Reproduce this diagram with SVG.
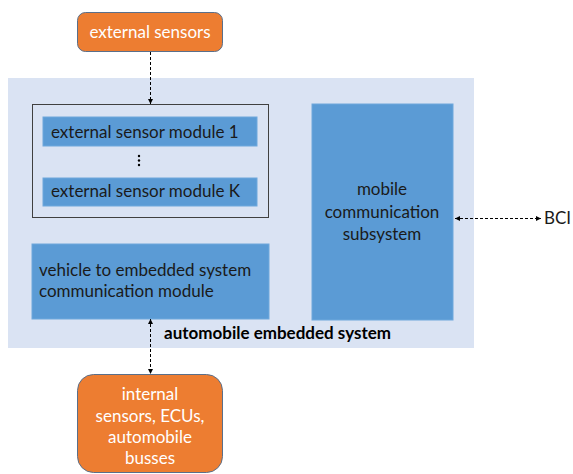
<svg xmlns="http://www.w3.org/2000/svg" width="573" height="474" viewBox="0 0 573 474">
<style>
.t{font-family:Lato,"Liberation Sans",sans-serif;font-size:17px;fill:#1a1a1a}
.w{font-family:Lato,"Liberation Sans",sans-serif;font-size:17px;fill:#ffffff}
.b{font-family:Lato,"Liberation Sans",sans-serif;font-size:17px;font-weight:bold;fill:#000}
.mod{fill:#5B9BD5;stroke:#6FA8DC;stroke-width:1}
.org{fill:#ED7D31;stroke:#5a6f8a;stroke-width:1}
.con{stroke:#000;stroke-width:1;stroke-dasharray:3,2;fill:none}
</style>
<defs>
<marker id="ah" viewBox="0 0 10 10" refX="10" refY="5" markerWidth="5" markerHeight="5" orient="auto-start-reverse" markerUnits="userSpaceOnUse">
<path d="M0,0 L10,5 L0,10 z" fill="#000"/>
</marker>
</defs>
<rect width="573" height="474" fill="#fff"/>
<g id="automobile-embedded-system">
<rect x="8" y="78" width="466" height="270" fill="#DAE3F3"/>
<text class="b" x="164" y="339">automobile embedded system</text>
</g>
<g id="external-sensor-group">
<rect x="32.5" y="104.5" width="236" height="113" fill="none" stroke="#404040" stroke-width="1"/>
</g>
<g id="external-sensor-module-1">
<rect class="mod" x="43" y="117" width="214" height="29"/>
<text class="t" x="51" y="138">external sensor module 1</text>
</g>
<g id="dots">
<circle cx="139" cy="156" r="1.2" fill="#000"/>
<circle cx="139" cy="160.5" r="1.2" fill="#000"/>
<circle cx="139" cy="165" r="1.2" fill="#000"/>
</g>
<g id="external-sensor-module-k">
<rect class="mod" x="43" y="178" width="214" height="28"/>
<text class="t" x="51" y="197">external sensor module K</text>
</g>
<g id="vehicle-module">
<rect class="mod" x="32" y="244" width="237" height="75"/>
<text class="t" x="39" y="276">vehicle to embedded system</text>
<text class="t" x="39" y="297">communication module</text>
</g>
<g id="mobile-communication-subsystem">
<rect class="mod" x="312" y="104" width="141" height="216"/>
<text class="t" x="382" y="195" text-anchor="middle">mobile</text>
<text class="t" x="382" y="218" text-anchor="middle">communication</text>
<text class="t" x="382" y="240" text-anchor="middle">subsystem</text>
</g>
<g id="external-sensors">
<rect class="org" x="77.5" y="12.5" width="145" height="39" rx="8"/>
<text class="w" x="150" y="38" text-anchor="middle">external sensors</text>
</g>
<g id="internal-sensors">
<rect class="org" x="77.5" y="374.5" width="145" height="98" rx="16"/>
<text class="w" x="150" y="400" text-anchor="middle">internal</text>
<text class="w" x="150" y="422" text-anchor="middle">sensors, ECUs,</text>
<text class="w" x="150" y="443" text-anchor="middle">automobile</text>
<text class="w" x="150" y="464" text-anchor="middle">busses</text>
</g>
<g id="bci">
<text class="t" x="571" y="224" text-anchor="end">BCI</text>
</g>
<g id="connectors">
<line class="con" x1="150.5" y1="52" x2="150.5" y2="104" marker-end="url(#ah)"/>
<line class="con" x1="150.5" y1="319" x2="150.5" y2="374" marker-start="url(#ah)" marker-end="url(#ah)"/>
<line class="con" x1="455" y1="218.5" x2="541" y2="218.5" marker-start="url(#ah)" marker-end="url(#ah)"/>
</g>
</svg>
